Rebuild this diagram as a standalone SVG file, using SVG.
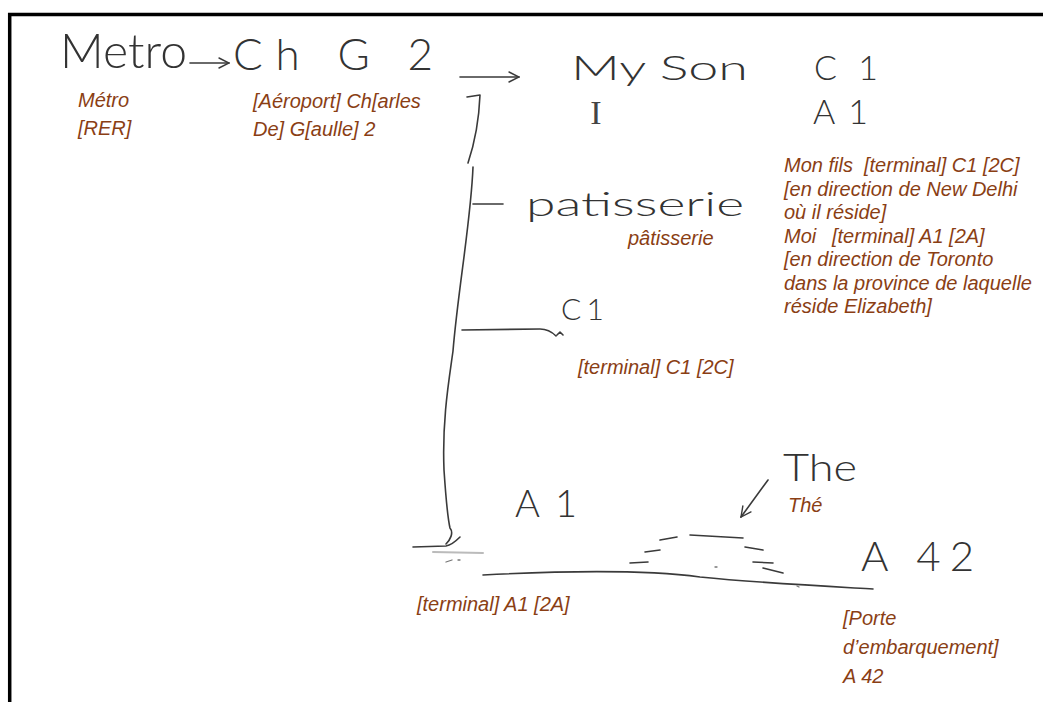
<svg xmlns="http://www.w3.org/2000/svg" width="1043" height="702" viewBox="0 0 1043 702">
<style>
.hw{font-family:Lato,"Open Sans","DejaVu Sans",sans-serif;font-weight:300;fill:#333;}
.hws{font-family:"Liberation Serif","DejaVu Serif",serif;fill:#444;}
.an{font-family:"Liberation Sans",Arial,sans-serif;font-style:italic;font-size:20px;fill:#8a3e14;}
.ln{fill:none;stroke:#3a3a3a;stroke-width:1.6;stroke-linecap:round;stroke-linejoin:round;}
.lt{fill:none;stroke:#777;stroke-width:1.3;stroke-linecap:round;}
.sm{fill:none;stroke:#bbb;stroke-width:2;stroke-linecap:round;}
</style>
<defs>
<marker id="open" viewBox="0 0 12 12" refX="11" refY="6" markerWidth="12" markerHeight="12" markerUnits="userSpaceOnUse" orient="auto">
<path d="M1,1 L11,6 L1,11" fill="none" stroke="#3a3a3a" stroke-width="1.4" stroke-linecap="round"/>
</marker>
</defs>
<rect width="1043" height="702" fill="#fff"/>
<g id="frame">
<line x1="8" y1="14.5" x2="1043" y2="14.5" stroke="#000" stroke-width="3.5"/>
<line x1="9.7" y1="13" x2="9.7" y2="702" stroke="#000" stroke-width="3.5"/>
</g>
<g id="connectors">
<path class="ln" d="M190,63 L229,63" marker-end="url(#open)"/>
<path class="ln" d="M460,77 L519,77" marker-end="url(#open)"/>
<path class="ln" d="M768,480 L741,517" marker-end="url(#open)"/>
<path class="ln" d="M467,97 L480,95 C479,120 474,145 468,163"/>
<path class="ln" d="M473,167 C471,220 458,290 453,351 C449,380 442,420 444,470 C446,500 447,515 450,528 C454,533 450,540 446,544"/>
<path class="ln" d="M413,547 L446,546 C452,545 456,541 460,537"/>
<path class="sm" d="M433,552 L483,553"/>
<path class="lt" d="M446,562 L452,560 M458,560 L460,560"/>
<path class="ln" d="M473,204 L503,204"/>
<path class="ln" d="M462,330 L540,329 C548,329 553,333 556,336 M557,335 L560,332 L563,335"/>
<path class="ln" d="M483,575 C560,571 640,569 700,577 C760,583 820,586 873,589"/>
<path class="lt" d="M797,586 L799,587"/>
</g>
<g id="node-metro">
<text class="hw" x="60" y="68" font-size="48" textLength="127" lengthAdjust="spacingAndGlyphs">Metro</text>
<text class="an" x="78" y="107">Métro</text>
<text class="an" x="78" y="135">[RER]</text>
</g>
<g id="node-chg2">
<text class="hw" x="233" y="70" font-size="44" textLength="200" lengthAdjust="spacing">Ch G 2</text>
<text class="an" x="253" y="108">[Aéroport] Ch[arles</text>
<text class="an" x="253" y="136">De] G[aulle] 2</text>
</g>
<g id="node-myson">
<text class="hw" x="571" y="80" font-size="34" textLength="177" lengthAdjust="spacingAndGlyphs">My Son</text>
<text class="hws" x="596" y="124" font-size="34" text-anchor="middle">I</text>
<text class="hw" x="814" y="80" font-size="34" textLength="64" lengthAdjust="spacing">C 1</text>
<text class="hw" x="813" y="124" font-size="34" textLength="55" lengthAdjust="spacing">A 1</text>
<text class="an" x="784" y="172">Mon fils<tspan x="864">[terminal] C1 [2C]</tspan></text>
<text class="an" x="784" y="195.5">[en direction de New Delhi</text>
<text class="an" x="784" y="219">où il réside]</text>
<text class="an" x="784" y="242.5">Moi<tspan x="832">[terminal] A1 [2A]</tspan></text>
<text class="an" x="784" y="266">[en direction de Toronto</text>
<text class="an" x="784" y="289.5">dans la province de laquelle</text>
<text class="an" x="784" y="313">réside Elizabeth]</text>
</g>
<g id="node-patisserie">
<text class="hw" x="526" y="216" font-size="34" textLength="218" lengthAdjust="spacingAndGlyphs">patisserie</text>
<text class="an" x="628" y="245">pâtisserie</text>
</g>
<g id="node-c1">
<text class="hw" x="561" y="320" font-size="30" textLength="43" lengthAdjust="spacing">C 1</text>
<text class="an" x="578" y="374">[terminal] C1 [2C]</text>
</g>
<g id="node-a1">
<text class="hw" x="515" y="517" font-size="38" textLength="62" lengthAdjust="spacing">A1</text>
<text class="an" x="417" y="611">[terminal] A1 [2A]</text>
</g>
<g id="node-the">
<text class="hw" x="783" y="481" font-size="38" textLength="74" lengthAdjust="spacingAndGlyphs">The</text>
<text class="an" x="788" y="512">Thé</text>
<path class="ln" d="M690,535 L743,538 M660,540 L677,537 M645,552 L660,550 M630,563 L648,562 M745,547 L763,550 M753,562 L773,563 M763,568 L783,573"/>
<path class="lt" d="M715,567 L717,567"/>
</g>
<g id="node-a42">
<text class="hw" x="861" y="571" font-size="42" textLength="113" lengthAdjust="spacing">A 42</text>
<text class="an" x="843" y="625">[Porte</text>
<text class="an" x="843" y="654">d’embarquement]</text>
<text class="an" x="843" y="683">A 42</text>
</g>
</svg>
